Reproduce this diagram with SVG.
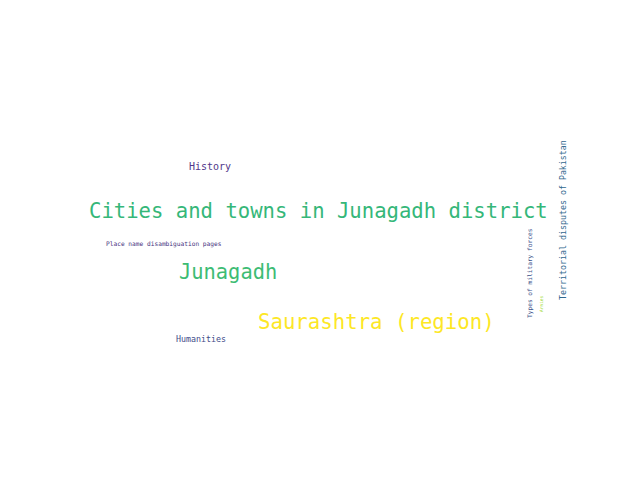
<svg xmlns="http://www.w3.org/2000/svg" width="640" height="480" viewBox="0 0 640 480">
<style>
text{font-family:"DejaVu Sans Mono","Liberation Mono",monospace;}
</style>
<rect width="640" height="480" fill="#ffffff"/>
<g id="w-cities"><text x="89" y="218" font-size="20.6" fill="#35b779">Cities and towns in Junagadh district</text></g>
<g id="w-junagadh"><text x="179" y="279" font-size="20.4" fill="#3dbc74">Junagadh</text></g>
<g id="w-saurashtra"><text x="258" y="329" font-size="20.7" fill="#fde725">Saurashtra (region)</text></g>
<g id="w-history"><text x="189" y="170" font-size="10" fill="#51378a">History</text></g>
<g id="w-place"><text x="106" y="246" font-size="6.2" fill="#46337e">Place name disambiguation pages</text></g>
<g id="w-humanities"><text x="176" y="342" font-size="8.3" fill="#3e4a89">Humanities</text></g>
<g id="w-territorial"><text transform="translate(566,300) rotate(-90)" font-size="8.3" fill="#31688e">Territorial disputes of Pakistan</text></g>
<g id="w-types"><text transform="translate(532,318) rotate(-90)" font-size="6.2" fill="#3b528b">Types of military forces</text></g>
<g id="w-armies"><text transform="translate(543,312) rotate(-90)" font-size="4.5" fill="#a0da39">Armies</text></g>
</svg>
